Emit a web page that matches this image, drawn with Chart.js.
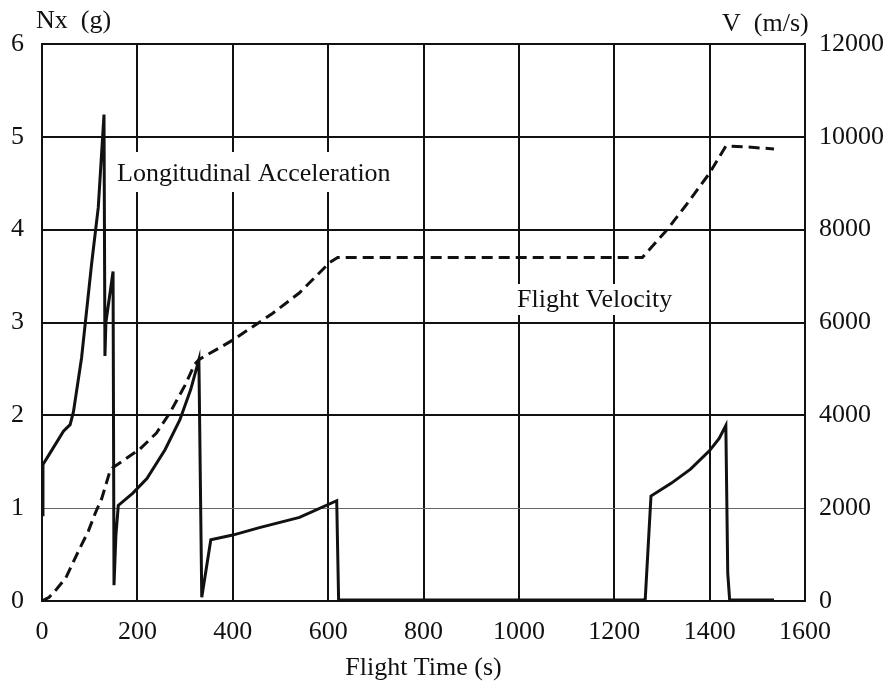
<!DOCTYPE html>
<html>
<head>
<meta charset="utf-8">
<script src="https://cdn.jsdelivr.net/npm/chart.js@4/dist/chart.umd.min.js"></script>
<style>
  html, body { margin: 0; padding: 0; background: #fff; }
  #wrap { width: 893px; height: 688px; }
</style>
</head>
<body>
<div id="wrap"><canvas id="my-chart" width="893" height="688"></canvas></div>
<script>
'use strict';

// longitudinal acceleration
let nxTime = [0, 2, 20, 45, 59, 66, 83, 104, 118, 130, 132, 134, 149, 151, 155, 160, 190, 220, 258, 289, 312, 329,
  335, 354, 400, 456, 540, 618, 622, 700, 900, 1100, 1259, 1265, 1277, 1320, 1360, 1400, 1420, 1434, 1438, 1442, 1535];
let nxValues = [0.93, 1.47, 1.62, 1.83, 1.9, 2.04, 2.62, 3.63, 4.24, 5.24, 2.64, 3.0, 3.55, 0.17, 0.71, 1.03, 1.16, 1.32, 1.63, 1.95, 2.28, 2.6,
  0.04, 0.66, 0.71, 0.79, 0.9, 1.08, 0.01, 0.01, 0.01, 0.01, 0.01, 0.02, 1.13, 1.27, 1.42, 1.62, 1.75, 1.89, 0.3, 0.01, 0.01];

// flight velocity
let vTime = [0, 15, 30, 50, 66, 80, 97, 112, 125, 142, 148, 205, 240, 268, 300, 320, 329, 400, 484, 540, 603, 620,
  900, 1259, 1311, 1350, 1400, 1434, 1480, 1535];
let vValues = [0, 80, 250, 500, 850, 1150, 1500, 1900, 2200, 2780, 2870, 3270, 3620, 4050, 4650, 5100, 5200, 5620, 6200, 6640, 7290, 7400,
  7400, 7400, 8000, 8520, 9220, 9800, 9780, 9740];

let nxTicks = [0, 1, 2, 3, 4, 5, 6];
let vTicks = [0, 2000, 4000, 6000, 8000, 10000, 12000];
let timeTicks = [0, 200, 400, 600, 800, 1000, 1200, 1400, 1600];

let fontFace = '"Liberation Serif", "Times New Roman", serif';

function toPoints(xs, ys) {
  let pts = [];
  for (let i = 0; i < xs.length; i++) {
    pts.push({ x: xs[i], y: ys[i] });
  }
  return pts;
}

let textPlugin = {
  id: 'textPlugin',
  beforeDatasetsDraw(chart) {
    let ctx = chart.ctx;
    ctx.save();
    ctx.fillStyle = '#fff';
    ctx.fillRect(112, 152, 294, 40);
    ctx.fillRect(508, 284, 176, 31);
    ctx.restore();
  },
  afterDraw(chart) {
    let ctx = chart.ctx;
    ctx.save();
    ctx.fillStyle = '#111';
    ctx.font = '26px ' + fontFace;
    ctx.textBaseline = 'middle';
    ctx.textAlign = 'left';
    ctx.fillText('Longitudinal Acceleration', 117, 174);
    ctx.fillText('Flight Velocity', 517, 300);
    ctx.fillText('Nx  (g)', 36, 21);
    ctx.fillText('V  (m/s)', 722, 24);
    ctx.restore();
  }
};

let canvasElem = document.getElementById('my-chart');

let chartObj = {
  type: 'line',
  data: {
    datasets: [{
      label: 'Longitudinal Acceleration',
      data: toPoints(nxTime, nxValues),
      yAxisID: 'y',
      borderColor: '#111',
      borderWidth: 3,
      pointRadius: 0,
      tension: 0
    },
    {
      label: 'Flight Velocity',
      data: toPoints(vTime, vValues),
      yAxisID: 'y1',
      borderColor: '#111',
      borderWidth: 3,
      borderDash: [11, 6],
      pointRadius: 0,
      tension: 0
    }]
  },
  options: {
    responsive: false,
    animation: false,
    layout: { padding: { top: 44, left: 0, right: 0, bottom: 0 } },
    plugins: {
      legend: { display: false },
      tooltip: { enabled: false }
    },
    scales: {
      x: {
        type: 'linear',
        min: 0,
        max: 1600,
        afterBuildTicks: (axis) => { axis.ticks = timeTicks.map(v => ({ value: v })); },
        afterFit: (axis) => { axis.height = 87; },
        grid: { color: '#111', lineWidth: 2, drawTicks: false },
        border: { color: '#111', width: 2 },
        ticks: { color: '#111', padding: 16, maxRotation: 0, callback: (v) => String(v), font: { family: fontFace, size: 26 } },
        title: { display: true, text: 'Flight Time (s)', color: '#111', padding: { top: 2 }, font: { family: fontFace, size: 26 } }
      },
      y: {
        position: 'left',
        min: 0,
        max: 6,
        afterBuildTicks: (axis) => { axis.ticks = nxTicks.map(v => ({ value: v })); },
        afterFit: (axis) => { axis.width = 42; },
        grid: {
          color: (c) => (c.tick && c.tick.value === 1 ? '#666' : '#111'),
          lineWidth: (c) => (c.tick && c.tick.value === 1 ? 1 : 2),
          drawTicks: false
        },
        border: { color: '#111', width: 2 },
        ticks: { color: '#111', padding: 18, callback: (v) => String(v), font: { family: fontFace, size: 26 } }
      },
      y1: {
        position: 'right',
        min: 0,
        max: 12000,
        afterBuildTicks: (axis) => { axis.ticks = vTicks.map(v => ({ value: v })); },
        afterFit: (axis) => { axis.width = 88; },
        grid: { display: false, drawTicks: false },
        border: { color: '#111', width: 2 },
        ticks: { color: '#111', padding: 14, callback: (v) => String(v), font: { family: fontFace, size: 26 } }
      }
    }
  },
  plugins: [textPlugin]
};

new Chart(canvasElem, chartObj); //eslint-disable-line
</script>
</body>
</html>
